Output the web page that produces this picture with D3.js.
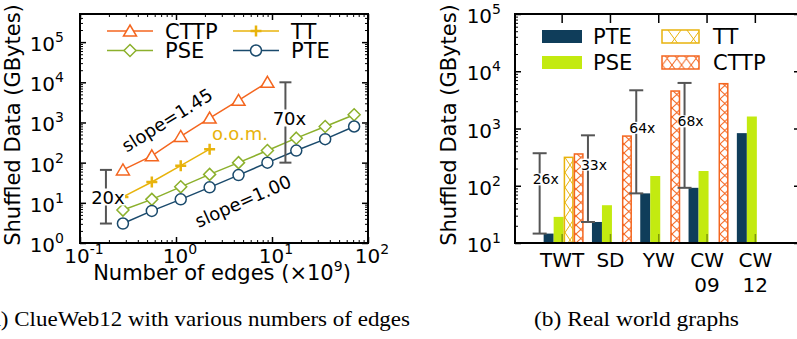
<!DOCTYPE html>
<html>
<head>
<meta charset="utf-8">
<script src="https://cdn.jsdelivr.net/npm/d3@7"></script>
<style>
body{margin:0;background:#fff}
svg{display:block}
</style>
</head>
<body>
<div id="chart"></div>
<script>
// (a) ClueWeb12 samples, edges in 10^9
var edges=[0.28,0.56,1.12,2.24,4.48,8.96,17.9,35.8,71.7];
var cttpLine=[66,148,450,1290,3550,10000];
var ttLine=[14,33,84,216];
var pseLine=[6.6,12.2,25,51,100,200,407,794,1560];
var pteLine=[3.05,6.3,12.2,24.3,49,100,200,385,794];
var xTicksA=[0.1,1,10,100];
var yTicksA=[1,10,100,1000,10000,100000];

// (b) real world graphs
var graphs=["TWT","SD","YW","CW09","CW12"];
var graphLabels=[["TWT"],["SD"],["YW"],["CW","09"],["CW","12"]];
var pteBar=[14.6,23.3,73.6,92,830];
var pseBar=[28.6,45.7,148,181,1620];
var ttBar=[323,null,null,null,null];
var cttpBar=[370,760,4650,6250,null];
var gapLabels=["26x","33x","64x","68x"];
var yTicksB=[10,100,1000,10000,100000];

var font="DejaVu Sans, sans-serif";
var cOrange="#f4661f", cGold="#e8b30c", cOlive="#8cb02c", cBlue="#1a4a6c";
var cNavy="#0f3d5a", cLime="#c3ea10", cGray="#555555";

var svg=d3.select("#chart").append("svg")
  .attr("width",797).attr("height",339)
  .style("font-family",font);

var defs=svg.append("defs");
function hatch(id,w,h,color){
  var p=defs.append("pattern").attr("id",id)
    .attr("patternUnits","userSpaceOnUse").attr("width",w).attr("height",h);
  p.append("rect").attr("width",w).attr("height",h).attr("fill","#fff");
  p.append("path").attr("d","M0,0L"+w+","+h+"M"+w+",0L0,"+h)
    .attr("stroke",color).attr("stroke-width",1).attr("fill","none");
}
hatch("hCttp",9.6,9,cOrange);
hatch("hTT",10,15,cGold);
hatch("hTTleg",19,26,cGold);
hatch("hCttpLeg",9.6,13,cOrange);

function minors(lo,hi){
  var out=[];
  for(var d=lo;d<hi;d*=10){
    for(var k=2;k<=9;k++){ if(d*k<=hi) out.push(d*k); }
  }
  return out;
}
function pow10(sel,v){
  var e=Math.round(Math.log10(v));
  sel.append("tspan").text("10");
  sel.append("tspan").attr("dy",-9).attr("font-size",14).text(e<0?"-"+(-e):e);
}
function ticks(g,axis,size,w){
  g.call(axis.tickSize(size).tickFormat(""));
  g.select(".domain").remove();
  g.selectAll("line").attr("stroke","#000").attr("stroke-width",w);
}
// label with a white box so the gap line is broken behind it
function boxed(g,x,y,anchor,fs,label){
  var gg=g.append("g");
  var r=gg.append("rect").attr("fill","#fff");
  var t=gg.append("text").attr("x",x).attr("y",y).attr("text-anchor",anchor)
    .attr("dominant-baseline","central").attr("font-size",fs).text(label);
  var b=t.node().getBBox();
  r.attr("x",b.x).attr("y",b.y+2).attr("width",b.width).attr("height",b.height-4);
}

// ================= panel (a) =================
var A={left:80,right:368,top:14,bottom:243};
var xA=d3.scaleLog().domain([0.1,100]).range([A.left,A.right]);
var yA=d3.scaleLog().domain([1,Math.pow(10,5.7)]).range([A.bottom,A.top]);
var gA=svg.append("g");

var xMinA=minors(0.1,100), yMinA=minors(1,Math.pow(10,5.7));
ticks(gA.append("g").attr("transform","translate(0,"+A.bottom+")"),d3.axisBottom(xA).tickValues(xTicksA),-6,1.5);
ticks(gA.append("g").attr("transform","translate(0,"+A.bottom+")"),d3.axisBottom(xA).tickValues(xMinA),-3,1);
ticks(gA.append("g").attr("transform","translate(0,"+A.top+")"),d3.axisTop(xA).tickValues(xTicksA),-6,1.5);
ticks(gA.append("g").attr("transform","translate(0,"+A.top+")"),d3.axisTop(xA).tickValues(xMinA),-3,1);
ticks(gA.append("g").attr("transform","translate("+A.left+",0)"),d3.axisLeft(yA).tickValues(yTicksA),-6,1.5);
ticks(gA.append("g").attr("transform","translate("+A.left+",0)"),d3.axisLeft(yA).tickValues(yMinA),-3,1);
ticks(gA.append("g").attr("transform","translate("+A.right+",0)"),d3.axisRight(yA).tickValues(yTicksA),-6,1.5);
ticks(gA.append("g").attr("transform","translate("+A.right+",0)"),d3.axisRight(yA).tickValues(yMinA),-3,1);

gA.append("rect").attr("x",A.left).attr("y",A.top)
  .attr("width",A.right-A.left).attr("height",A.bottom-A.top)
  .attr("fill","none").attr("stroke","#000").attr("stroke-width",2);

gA.selectAll(".xl").data(xTicksA).enter().append("text")
  .attr("x",function(d){return xA(d)+4;}).attr("y",263)
  .attr("text-anchor","middle").attr("font-size",20)
  .each(function(d){pow10(d3.select(this),d);});
gA.selectAll(".yl").data(yTicksA).enter().append("text")
  .attr("x",64).attr("y",function(d){return yA(d)+9;})
  .attr("text-anchor","end").attr("font-size",20)
  .each(function(d){pow10(d3.select(this),d);});

gA.append("text").attr("transform","translate(20,125) rotate(-90)")
  .attr("text-anchor","middle").attr("font-size",21).text("Shuffled Data (GBytes)");
var xt=gA.append("text").attr("x",222).attr("y",280).attr("text-anchor","middle").attr("font-size",21);
xt.append("tspan").text("Number of edges (\u00d710");
xt.append("tspan").attr("dy",-9).attr("font-size",14).text("9");
xt.append("tspan").attr("dy",9).text(")");

var tri="M0,-6L6.5,5L-6.5,5Z", dia="M0,-6L6,0L0,6L-6,0Z", plus="M-5.5,0H5.5M0,-5.5V5.5";
var seriesA=[
  {name:"CTTP",vals:cttpLine,color:cOrange,shape:"tri"},
  {name:"TT",vals:ttLine,color:cGold,shape:"plus"},
  {name:"PSE",vals:pseLine,color:cOlive,shape:"dia"},
  {name:"PTE",vals:pteLine,color:cBlue,shape:"circ"}
];
function marker(g,shape,color,x,y){
  if(shape=="circ"){
    g.append("circle").attr("cx",x).attr("cy",y).attr("r",5.5)
      .attr("fill","#fff").attr("stroke",color).attr("stroke-width",1.5);
  } else {
    var d=shape=="tri"?tri:shape=="dia"?dia:plus;
    g.append("path").attr("d",d).attr("transform","translate("+x+","+y+")")
      .attr("fill",shape=="plus"?"none":"#fff").attr("stroke",color)
      .attr("stroke-width",shape=="plus"?2.5:1.5);
  }
}
var line=d3.line().x(function(d,i){return xA(edges[i]);}).y(function(d){return yA(d);});
seriesA.forEach(function(s){
  var g=gA.append("g");
  g.append("path").attr("d",line(s.vals)).attr("fill","none")
    .attr("stroke",s.color).attr("stroke-width",1.5);
  s.vals.forEach(function(v,i){marker(g,s.shape,s.color,xA(edges[i]),yA(v));});
});

// legend (a)
var legA=[["CTTP",0,0],["TT",1,0],["PSE",0,1],["PTE",1,1]];
legA.forEach(function(l){
  var s=seriesA.filter(function(d){return d.name==l[0];})[0];
  var x0=l[1]?233:107, y0=l[2]?50.5:31;
  gA.append("line").attr("x1",x0).attr("x2",x0+46).attr("y1",y0).attr("y2",y0)
    .attr("stroke",s.color).attr("stroke-width",1.5);
  marker(gA,s.shape,s.color,x0+23,y0);
  gA.append("text").attr("x",x0+58).attr("y",y0+7.5).attr("font-size",21).text(l[0]);
});

// annotations (a)
function gapA(x,v1,v2,label,ty,dx){
  var y1=yA(v1), y2=yA(v2);
  gA.append("line").attr("x1",x).attr("x2",x).attr("y1",y1).attr("y2",y2)
    .attr("stroke",cGray).attr("stroke-width",2);
  [y1,y2].forEach(function(y){
    gA.append("line").attr("x1",x-6).attr("x2",x+6).attr("y1",y).attr("y2",y)
      .attr("stroke",cGray).attr("stroke-width",2);
  });
  boxed(gA,x+dx,ty,"middle",18,label);
}
gapA(xA(edges[5])+18,cttpLine[5],pteLine[5],"70x",118,4);
gapA(xA(edges[0])-17,cttpLine[0],pteLine[0],"20x",197,2);

gA.append("text").attr("transform","translate(167,120) rotate(-32)")
  .attr("text-anchor","middle").attr("dominant-baseline","central")
  .attr("font-size",18).text("slope=1.45");
gA.append("text").attr("transform","translate(243,201) rotate(-24)")
  .attr("text-anchor","middle").attr("dominant-baseline","central")
  .attr("font-size",18).text("slope=1.00");
gA.append("text").attr("x",240).attr("y",140).attr("text-anchor","middle")
  .attr("font-size",18).attr("fill",cGold).text("o.o.m.");

// ================= panel (b) =================
var B={left:515,right:800,top:14,bottom:243};
var yB=d3.scaleLog().domain([10,100000]).range([B.bottom,B.top]);
var xB=d3.scaleBand().domain(graphs).range([538,779.5]);
var inner=d3.scaleBand().domain(["PTE","PSE","TT","CTTP"]).range([0,40]);
var gB=svg.append("g");
function groupLeft(g){return xB(g)+xB.bandwidth()/2-20+1.5;}

var seriesB=[
  {name:"PTE",vals:pteBar,fill:cNavy,stroke:"none"},
  {name:"PSE",vals:pseBar,fill:cLime,stroke:"none"},
  {name:"TT",vals:ttBar,fill:"url(#hTT)",stroke:cGold},
  {name:"CTTP",vals:cttpBar,fill:"url(#hCttp)",stroke:cOrange}
];
seriesB.forEach(function(s){
  var pad=s.stroke=="none"?0:0.75;
  s.vals.forEach(function(v,i){
    if(v==null) return;
    gB.append("rect")
      .attr("x",groupLeft(graphs[i])+inner(s.name)+pad)
      .attr("y",yB(v)+pad)
      .attr("width",inner.bandwidth()-2*pad)
      .attr("height",B.bottom-yB(v)-pad)
      .attr("fill",s.fill).attr("stroke",s.stroke).attr("stroke-width",1.5);
  });
});

// axes (b)
var yMinB=minors(10,100000);
ticks(gB.append("g").attr("transform","translate("+B.left+",0)"),d3.axisLeft(yB).tickValues(yTicksB),-6,1.5);
ticks(gB.append("g").attr("transform","translate("+B.left+",0)"),d3.axisLeft(yB).tickValues(yMinB),-3,1);
ticks(gB.append("g").attr("transform","translate("+B.right+",0)"),d3.axisRight(yB).tickValues(yTicksB),-6,1.5);
var centers=graphs.map(function(g){return xB(g)+xB.bandwidth()/2;});
centers.forEach(function(cx){
  gB.append("line").attr("x1",cx).attr("x2",cx).attr("y1",B.top).attr("y2",B.top+9)
    .attr("stroke","#000").attr("stroke-width",1.5);
  gB.append("line").attr("x1",cx).attr("x2",cx).attr("y1",B.bottom).attr("y2",B.bottom-9)
    .attr("stroke","#000").attr("stroke-opacity",0.35).attr("stroke-width",1.5);
});
gB.append("rect").attr("x",B.left).attr("y",B.top)
  .attr("width",B.right-B.left).attr("height",B.bottom-B.top)
  .attr("fill","none").attr("stroke","#000").attr("stroke-width",2);

gB.selectAll(".yl").data(yTicksB).enter().append("text")
  .attr("x",501).attr("y",function(d){return yB(d)+9;})
  .attr("text-anchor","end").attr("font-size",20)
  .each(function(d){pow10(d3.select(this),d);});
graphLabels.forEach(function(lines,i){
  lines.forEach(function(t,j){
    gB.append("text").attr("x",centers[i]).attr("y",266.5+j*25.5)
      .attr("text-anchor","middle").attr("font-size",20).text(t);
  });
});
gB.append("text").attr("transform","translate(456,125) rotate(-90)")
  .attr("text-anchor","middle").attr("font-size",21).text("Shuffled Data (GBytes)");

// gaps between PTE and CTTP (b)
gapLabels.forEach(function(lab,i){
  var x=groupLeft(graphs[i])-4, y1=yB(cttpBar[i]), y2=yB(pteBar[i]);
  gB.append("line").attr("x1",x).attr("x2",x).attr("y1",y1).attr("y2",y2)
    .attr("stroke",cGray).attr("stroke-width",2);
  [y1,y2].forEach(function(y){
    gB.append("line").attr("x1",x-7).attr("x2",x+7).attr("y1",y).attr("y2",y)
      .attr("stroke",cGray).attr("stroke-width",2);
  });
  boxed(gB,x-7,(y1+y2)/2-14,"start",14,lab);
});

// legend (b)
var legB=[["PTE",0,0],["TT",1,0],["PSE",0,1],["CTTP",1,1]];
legB.forEach(function(l){
  var s=seriesB.filter(function(d){return d.name==l[0];})[0];
  var x0=l[1]?662:542, y0=l[2]?56:30;
  var fill=s.name=="TT"?"url(#hTTleg)":s.name=="CTTP"?"url(#hCttpLeg)":s.fill;
  gB.append("rect").attr("x",x0).attr("y",y0).attr("width",l[1]?37:40).attr("height",13)
    .attr("fill",fill).attr("stroke",s.stroke).attr("stroke-width",1.5);
  gB.append("text").attr("x",x0+51).attr("y",y0+14).attr("font-size",21).text(l[0]);
});

// captions
svg.append("text").attr("x",-17).attr("y",326)
  .attr("font-family","Liberation Serif, serif").attr("font-size",22)
  .attr("textLength",427).attr("lengthAdjust","spacingAndGlyphs")
  .text("(a) ClueWeb12 with various numbers of edges");
svg.append("text").attr("x",534).attr("y",326)
  .attr("font-family","Liberation Serif, serif").attr("font-size",22)
  .attr("textLength",205).attr("lengthAdjust","spacingAndGlyphs")
  .text("(b) Real world graphs");
</script>
</body>
</html>
